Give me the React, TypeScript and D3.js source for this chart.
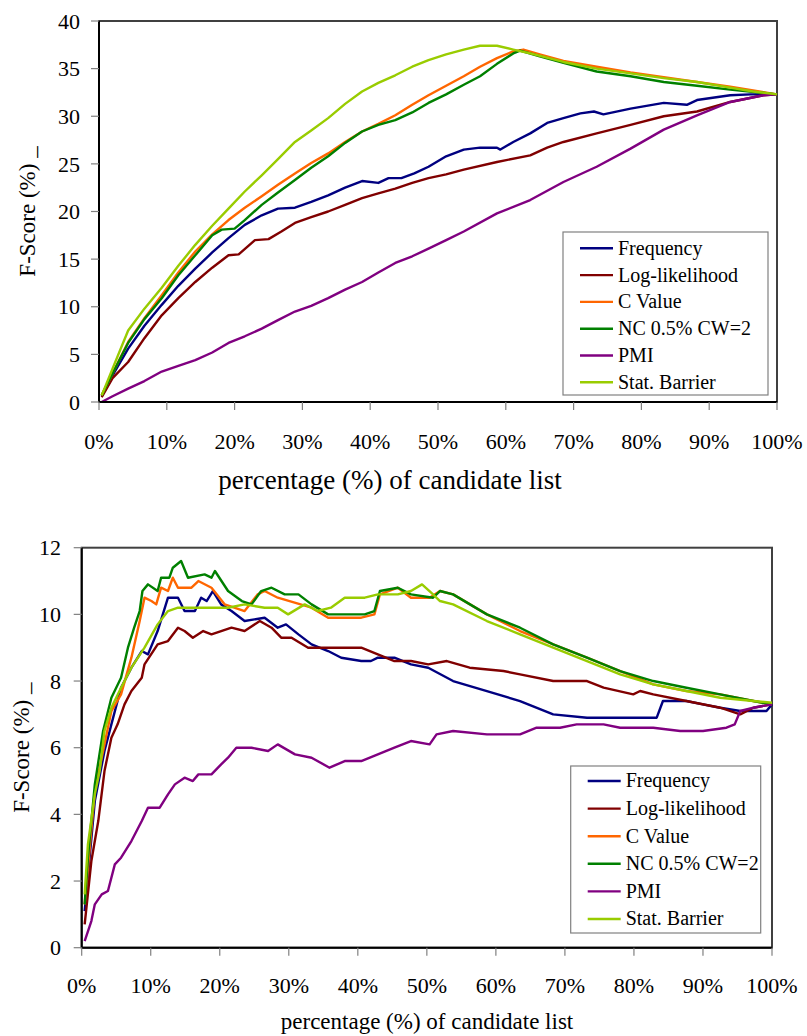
import React from "react";
import * as d3 from "d3";

// ---------- DATA ----------
const seriesNames = ["Frequency", "Log-likelihood", "C Value", "NC 0.5% CW=2", "PMI", "Stat. Barrier"];
const seriesColors = ["#000080", "#800000", "#FF6600", "#008000", "#800080", "#99CC00"];
const xTicks = [0, 10, 20, 30, 40, 50, 60, 70, 80, 90, 100];
const topYTicks = [0, 5, 10, 15, 20, 25, 30, 35, 40];
const bottomYTicks = [0, 2, 4, 6, 8, 10, 12];
const yTitle = "F-Score (%) _";
const xTitle = "percentage (%) of candidate list";

// Top chart (x = % of candidate list, y = F-score %)
const topFrequency: [number, number][] = [[0.4,0.6],[2,2.8],[4.3,5.6],[6.7,8.0],[9.25,10.2],[11.7,12.2],[14.2,14.0],[16.7,15.7],[19.1,17.2],[21.5,18.6],[24.0,19.6],[26.4,20.3],[28.9,20.4],[31.3,21.0],[33.8,21.7],[36.3,22.5],[38.8,23.2],[41.2,23.0],[42.7,23.5],[44.6,23.5],[46.5,24.0],[48.6,24.7],[51.2,25.8],[53.8,26.5],[56.2,26.7],[58.7,26.7],[59.2,26.5],[61.1,27.3],[63.6,28.2],[66.1,29.3],[68.5,29.8],[71.0,30.3],[73.0,30.5],[74.4,30.2],[78.4,30.8],[83.3,31.4],[86.7,31.2],[88.2,31.7],[93.1,32.2],[96.1,32.3],[100,32.3]];
const topLogLikelihood: [number, number][] = [[0.4,0.5],[2,2.5],[4.3,4.2],[6.7,6.7],[9.25,9.1],[11.7,10.9],[14.2,12.6],[16.7,14.1],[19.1,15.4],[20.6,15.5],[23.0,17.0],[25.0,17.1],[26.9,17.9],[28.9,18.8],[31.3,19.4],[33.8,20.0],[36.3,20.7],[38.8,21.4],[41.2,21.9],[43.7,22.4],[46.2,23.0],[48.6,23.5],[51.2,23.9],[53.8,24.4],[58.7,25.2],[63.6,25.9],[66.1,26.7],[68.5,27.3],[73.4,28.2],[78.4,29.1],[83.3,30.0],[88.2,30.5],[93.1,31.5],[98.0,32.2],[100,32.3]];
const topCValue: [number, number][] = [[0.4,0.7],[2,3.0],[4.3,6.3],[6.7,8.8],[9.25,11.2],[11.7,13.6],[14.2,15.8],[16.7,17.6],[19.1,19.1],[21.5,20.4],[24.0,21.6],[26.4,22.8],[28.9,24.0],[31.3,25.1],[33.8,26.1],[36.3,27.3],[38.8,28.4],[41.2,29.2],[43.7,30.1],[46.2,31.2],[48.6,32.2],[51.2,33.2],[53.8,34.2],[56.2,35.2],[58.7,36.1],[61.1,36.8],[62.6,37.0],[65,36.5],[68.5,35.8],[73.4,35.2],[78.4,34.6],[83.3,34.1],[88.2,33.6],[93.1,33.1],[100,32.3]];
const topNC: [number, number][] = [[0.4,0.7],[2,3.0],[4.3,6.2],[6.7,8.7],[9.25,10.9],[11.7,13.3],[14.2,15.4],[16.7,17.5],[18.1,18.1],[20.0,18.2],[21.5,19.1],[24.0,20.7],[26.4,22.0],[28.9,23.3],[31.3,24.6],[33.8,25.8],[36.3,27.2],[38.8,28.4],[41.2,29.1],[43.7,29.6],[46.2,30.4],[48.6,31.4],[51.2,32.3],[53.8,33.3],[56.2,34.2],[58.7,35.5],[61.1,36.6],[62.1,36.9],[65,36.3],[68.5,35.6],[73.4,34.7],[78.4,34.2],[83.3,33.6],[88.2,33.2],[93.1,32.8],[100,32.3]];
const topPMI: [number, number][] = [[0.4,0.0],[2,0.6],[4.3,1.4],[6.7,2.2],[9.25,3.2],[11.7,3.8],[14.2,4.4],[16.7,5.2],[19.1,6.2],[21.5,6.9],[24.0,7.7],[26.4,8.6],[28.9,9.5],[31.3,10.1],[33.8,10.9],[36.3,11.8],[38.8,12.6],[41.2,13.6],[43.7,14.6],[46.2,15.3],[48.6,16.1],[51.2,17.0],[53.8,17.9],[58.7,19.8],[63.6,21.2],[68.5,23.1],[73.4,24.7],[78.4,26.6],[83.3,28.6],[88.2,30.1],[93.1,31.5],[98.0,32.2],[100,32.3]];
const topStatBarrier: [number, number][] = [[0.4,0.7],[2,3.5],[4.3,7.5],[6.7,9.8],[9.25,12.0],[11.7,14.3],[14.2,16.5],[16.7,18.5],[19.1,20.3],[21.5,22.1],[24.0,23.8],[26.4,25.5],[28.9,27.3],[31.3,28.5],[33.8,29.8],[36.3,31.3],[38.8,32.6],[41.2,33.5],[43.7,34.3],[46.2,35.2],[48.6,35.9],[51.2,36.5],[53.8,37.0],[56.2,37.4],[58.7,37.4],[61.1,37.0],[63.6,36.6],[68.5,35.7],[73.4,35.0],[78.4,34.5],[83.3,34.0],[88.2,33.6],[93.1,33.0],[96.5,32.6],[100,32.3]];

// Bottom chart
const botFrequency: [number, number][] = [[0.43,1.1],[1.9,4.4],[3.3,5.9],[4.3,6.7],[5.7,7.8],[7.2,8.4],[8.7,8.9],[9.6,8.8],[11.0,9.5],[12.5,10.5],[13.95,10.5],[14.9,10.1],[16.4,10.1],[17.3,10.5],[18.1,10.4],[19.0,10.7],[20.2,10.3],[21.7,10.1],[23.6,9.8],[26.5,9.9],[28.4,9.6],[29.6,9.7],[31.4,9.4],[33.3,9.1],[35.7,8.9],[37.6,8.7],[40.5,8.6],[41.9,8.6],[42.9,8.7],[45.3,8.7],[47.7,8.5],[50.2,8.4],[53.8,8.0],[58.7,7.7],[63.5,7.4],[68.3,7.0],[73.2,6.9],[77.0,6.9],[80.4,6.9],[83.3,6.9],[84.2,7.4],[87.6,7.4],[90.0,7.3],[92.5,7.2],[95.4,7.1],[99.2,7.1],[100,7.3]];
const botLogLikelihood: [number, number][] = [[0.43,0.7],[1.4,2.6],[2.4,3.8],[3.3,5.3],[4.3,6.3],[5.2,6.7],[6.2,7.3],[7.2,7.7],[8.7,8.1],[9.1,8.5],[11.0,9.1],[12.5,9.2],[13.95,9.6],[14.9,9.5],[16.1,9.3],[17.6,9.5],[18.8,9.4],[20.2,9.5],[21.7,9.6],[23.6,9.5],[25.8,9.8],[27.5,9.6],[28.9,9.3],[30.4,9.3],[32.8,9.0],[35.2,9.0],[38.1,9.0],[40.5,9.0],[42.9,8.8],[45.3,8.6],[47.7,8.6],[50.2,8.5],[52.9,8.6],[56.2,8.4],[61.1,8.3],[63.5,8.2],[68.3,8.0],[70.7,8.0],[73.2,8.0],[75.6,7.8],[79.9,7.6],[80.9,7.7],[82.8,7.6],[87.6,7.4],[92.5,7.2],[95.4,7.0],[97.3,7.2],[100,7.3]];
const botCValue: [number, number][] = [[0.43,1.3],[1.9,4.7],[4.3,7.1],[5.7,7.6],[7.2,8.7],[8.4,9.8],[9.1,10.5],[10.1,10.4],[10.8,10.3],[11.5,10.8],[12.5,10.7],[13.2,11.1],[13.95,10.8],[15.9,10.8],[16.9,11.0],[18.8,10.8],[20.7,10.3],[23.6,10.1],[25.5,10.6],[26.5,10.7],[28.4,10.5],[33.3,10.2],[35.7,9.9],[38.1,9.9],[40.5,9.9],[42.4,10.0],[43.2,10.6],[45.8,10.8],[47.7,10.5],[50.4,10.5],[51.9,10.7],[53.8,10.6],[58.7,10.0],[63.5,9.5],[68.3,9.1],[73.2,8.7],[78.0,8.3],[82.8,7.9],[87.6,7.7],[92.5,7.6],[97.3,7.4],[100,7.3]];
const botNC: [number, number][] = [[0.43,1.3],[0.9,2.7],[1.9,4.9],[3.1,6.5],[4.3,7.5],[5.7,8.1],[6.7,9.0],[7.6,9.6],[8.4,10.1],[8.8,10.7],[9.6,10.9],[11.0,10.7],[11.5,11.1],[12.7,11.1],[13.2,11.4],[14.4,11.6],[15.4,11.1],[17.8,11.2],[18.8,11.1],[19.3,11.3],[21.2,10.7],[23.2,10.4],[24.6,10.3],[26.0,10.7],[27.5,10.8],[29.4,10.6],[31.4,10.6],[33.3,10.3],[35.7,10.0],[38.1,10.0],[41.0,10.0],[42.4,10.1],[43.2,10.7],[45.8,10.8],[47.7,10.6],[50.9,10.5],[51.9,10.7],[53.8,10.6],[58.7,10.0],[63.5,9.6],[68.3,9.1],[73.2,8.7],[78.0,8.3],[82.8,8.0],[87.6,7.8],[92.5,7.6],[97.3,7.4],[100,7.3]];
const botPMI: [number, number][] = [[0.43,0.2],[1.4,0.8],[1.9,1.3],[2.9,1.6],[3.8,1.7],[4.8,2.5],[5.7,2.7],[7.2,3.2],[8.7,3.8],[9.6,4.2],[11.3,4.2],[12.5,4.6],[13.5,4.9],[14.9,5.1],[16.1,5.0],[16.9,5.2],[18.8,5.2],[20.2,5.5],[21.2,5.7],[22.4,6.0],[24.6,6.0],[27.0,5.9],[28.4,6.1],[30.9,5.8],[33.3,5.7],[35.9,5.4],[38.1,5.6],[40.5,5.6],[42.9,5.8],[45.3,6.0],[47.7,6.2],[50.4,6.1],[51.4,6.4],[53.8,6.5],[58.7,6.4],[63.5,6.4],[65.9,6.6],[69.3,6.6],[71.7,6.7],[75.6,6.7],[78.0,6.6],[82.8,6.6],[86.7,6.5],[90.0,6.5],[93.4,6.6],[94.6,6.7],[95.4,7.1],[97.3,7.2],[100,7.3]];
const botStatBarrier: [number, number][] = [[0.43,1.6],[0.9,3.1],[1.9,4.6],[2.6,5.3],[3.3,6.5],[4.3,7.2],[5.7,7.8],[7.2,8.4],[9.1,9.0],[11.0,9.7],[12.5,10.1],[13.95,10.2],[16.4,10.2],[18.8,10.2],[21.2,10.2],[23.6,10.3],[26.5,10.2],[28.4,10.2],[29.9,10.0],[32.3,10.3],[34.2,10.1],[36.1,10.2],[38.1,10.5],[41.0,10.5],[42.9,10.6],[45.8,10.6],[47.7,10.7],[49.3,10.9],[50.9,10.6],[51.9,10.4],[53.8,10.3],[58.7,9.8],[63.5,9.4],[68.3,9.0],[73.2,8.6],[78.0,8.2],[82.8,7.9],[87.6,7.7],[92.5,7.5],[97.3,7.4],[100,7.35]];

const topSeries = [topFrequency, topLogLikelihood, topCValue, topNC, topPMI, topStatBarrier];
const botSeries = [botFrequency, botLogLikelihood, botCValue, botNC, botPMI, botStatBarrier];

const FONT = '"Liberation Serif", "DejaVu Serif", serif';
const txt = (size: number): React.CSSProperties => ({ fontFamily: FONT, fontSize: size + "px" });

type Layout = {
  x0: number; x1: number; y0: number; y1: number; yMax: number; yTicks: number[];
  yLabelX: number; xLabelY: number; xTitleY: number; xTitleX: number; xTitleSize: number; yTitleX: number;
  legend: { x: number; y: number; w: number; h: number; first: number; step: number };
};

function Chart({ data, layout }: { data: [number, number][][]; layout: Layout }) {
  const L = layout;
  const x = d3.scaleLinear().domain([0, 100]).range([L.x0, L.x1]);
  const y = d3.scaleLinear().domain([0, L.yMax]).range([L.y1, L.y0]);
  const line = d3.line<[number, number]>().x(d => x(d[0])).y(d => y(d[1])).curve(d3.curveLinear);
  const yMid = (L.y0 + L.y1) / 2;
  return (
    <g fill="#000">
      <rect x={L.x0} y={L.y0} width={L.x1 - L.x0} height={L.y1 - L.y0} fill="#fff" stroke="#404040" strokeWidth={2} />
      {data.map((s, i) => (
        <path key={i} d={line(s) || ""} fill="none" stroke={seriesColors[i]} strokeWidth={2.4} strokeLinejoin="round" />
      ))}
      <line x1={L.x0} x2={L.x0} y1={L.y0} y2={L.y1} stroke="#000" strokeWidth={2} />
      <line x1={L.x0} x2={L.x1} y1={L.y1} y2={L.y1} stroke="#000" strokeWidth={2} />
      {L.yTicks.map(t => (
        <g key={"y" + t}>
          <line x1={L.x0 - 8} x2={L.x0} y1={y(t)} y2={y(t)} stroke="#808080" strokeWidth={1.2} />
          <text x={L.yLabelX} y={y(t)} dy="0.35em" textAnchor="end" style={txt(22)}>{t}</text>
        </g>
      ))}
      {xTicks.map(t => (
        <g key={"x" + t}>
          <line x1={x(t)} x2={x(t)} y1={L.y1} y2={L.y1 + 8} stroke="#808080" strokeWidth={1.2} />
          <text x={x(t)} y={L.xLabelY} textAnchor="middle" style={txt(22)}>{t + "%"}</text>
        </g>
      ))}
      <text x={L.xTitleX} y={L.xTitleY} textAnchor="middle" style={txt(L.xTitleSize)}>{xTitle}</text>
      <text transform={`translate(${L.yTitleX},${yMid}) rotate(-90)`} textAnchor="middle" style={txt(23)}>{yTitle}</text>
      <rect x={L.legend.x} y={L.legend.y} width={L.legend.w} height={L.legend.h} fill="#fff" stroke="#808080" strokeWidth={1.2} />
      {seriesNames.map((n, i) => {
        const ly = L.legend.first + i * L.legend.step;
        return (
          <g key={n}>
            <line x1={L.legend.x + 17} x2={L.legend.x + 50} y1={ly} y2={ly} stroke={seriesColors[i]} strokeWidth={2.4} />
            <text x={L.legend.x + 55} y={ly} dy="0.32em" style={txt(20)}>{n}</text>
          </g>
        );
      })}
    </g>
  );
}

const topLayout: Layout = {
  x0: 99, x1: 777, y0: 21, y1: 402, yMax: 40, yTicks: topYTicks,
  yLabelX: 80, xLabelY: 449, xTitleY: 489, xTitleX: 390, xTitleSize: 27, yTitleX: 35,
  legend: { x: 563, y: 232, w: 205, h: 163, first: 248.3, step: 26.8 },
};
const bottomLayout: Layout = {
  x0: 81.7, x1: 772, y0: 547.7, y1: 947.7, yMax: 12, yTicks: bottomYTicks,
  yLabelX: 61, xLabelY: 993, xTitleY: 1029, xTitleX: 427, xTitleSize: 23, yTitleX: 29,
  legend: { x: 570.7, y: 766, w: 190, h: 167, first: 781, step: 27.6 },
};

export default function App() {
  return (
    <svg width={807} height={1036} style={{ position: "absolute", left: 0, top: 0, background: "#fff" }}>
      <rect width={807} height={1036} fill="#fff" />
      <Chart data={topSeries} layout={topLayout} />
      <Chart data={botSeries} layout={bottomLayout} />
    </svg>
  );
}
